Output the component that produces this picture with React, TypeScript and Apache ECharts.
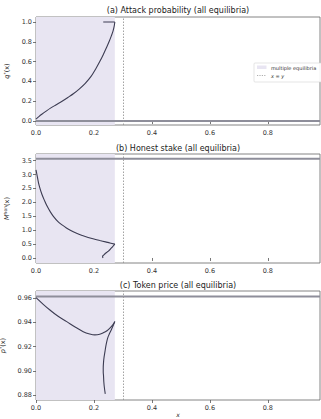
import React, { useEffect, useRef } from "react";
import * as echarts from "echarts";

// x extents
const X_MAX = 0.98;
const SHADE_END = 0.272;
const DIAG_X = 0.3;
const xTicks = [0, 0.2, 0.4, 0.6, 0.8];

// (a) attack probability
const aX = [0, 0.01, 0.02, 0.035, 0.05, 0.07, 0.09, 0.11, 0.13, 0.15, 0.17, 0.19, 0.205, 0.22, 0.232, 0.243, 0.252, 0.26, 0.266, 0.27, 0.272];
const aQ = [0.02, 0.045, 0.068, 0.1, 0.13, 0.165, 0.2, 0.238, 0.278, 0.325, 0.38, 0.45, 0.52, 0.6, 0.67, 0.74, 0.8, 0.86, 0.91, 0.96, 1.0];
const aTopX = [0.232, 0.272];
const aTopQ = [1.0, 1.0];
const aFlat = 0;
const aTicks = [0, 0.2, 0.4, 0.6, 0.8, 1.0];

// (b) honest stake
const bX = [0, 0.005, 0.011, 0.02, 0.03, 0.04, 0.05, 0.06, 0.075, 0.09, 0.105, 0.12, 0.14, 0.16, 0.18, 0.2, 0.22, 0.24, 0.255, 0.272];
const bM = [3.17, 2.9, 2.6, 2.3, 2.05, 1.83, 1.65, 1.5, 1.32, 1.19, 1.08, 0.99, 0.89, 0.81, 0.74, 0.68, 0.63, 0.58, 0.54, 0.5];
const bRX = [0.272, 0.267, 0.262, 0.256, 0.25, 0.245, 0.24, 0.236, 0.233, 0.23, 0.229, 0.23, 0.232];
const bRM = [0.5, 0.44, 0.38, 0.31, 0.25, 0.21, 0.17, 0.13, 0.1, 0.07, 0.05, 0.03, 0.01];
const bFlat = 3.57;
const bTicks = [0, 0.5, 1.0, 1.5, 2.0, 2.5, 3.0, 3.5];

// (c) token price
const cX = [0, 0.025, 0.048, 0.075, 0.106, 0.135, 0.163, 0.185, 0.203, 0.22, 0.232, 0.245, 0.255, 0.265, 0.272];
const cP = [0.9605, 0.955, 0.9503, 0.9453, 0.9407, 0.9362, 0.9324, 0.9305, 0.9297, 0.9302, 0.9314, 0.9332, 0.9353, 0.938, 0.9407];
const cRX = [0.272, 0.266, 0.26, 0.254, 0.249, 0.245, 0.241, 0.238, 0.235, 0.233, 0.232, 0.232, 0.233, 0.234, 0.236, 0.239];
const cRP = [0.9407, 0.9372, 0.934, 0.931, 0.9283, 0.925, 0.9205, 0.9159, 0.9115, 0.907, 0.902, 0.899, 0.896, 0.891, 0.886, 0.881];
const cFlat = 0.9615;
const cTicks = [0.88, 0.9, 0.92, 0.94, 0.96];

const titles = [
  "(a) Attack probability (all equilibria)",
  "(b) Honest stake (all equilibria)",
  "(c) Token price (all equilibria)",
];

const FONT = "DejaVu Sans";
const CURVE = "#3c3c52";
const FLAT = "#8e8e9a";
const SHADE = "#e8e5f2";
const FRAME = "#666";

const zip = (xs: number[], ys: number[]) => xs.map((x, i) => [x, ys[i]]);

export default function App() {
  const ref = useRef<HTMLDivElement>(null);
  useEffect(() => {
    if (!ref.current) return;
    const chart = echarts.init(ref.current, null, { renderer: "svg" });

    const gridDefs = [
      { top: 17, height: 108 },
      { top: 154, height: 109 },
      { top: 291, height: 109 },
    ];
    const yDefs = [
      { min: -0.04, max: 1.05, ticks: aTicks, dec: 1, name: "{i|q}{s|*}{n|(x)}" },
      { min: -0.18, max: 3.74, ticks: bTicks, dec: 1, name: "{i|M}{s|hon}{n|(x)}" },
      { min: 0.8759, max: 0.966, ticks: cTicks, dec: 2, name: "{i|p}{s|*}{n|(x)}" },
    ];
    const rich = {
      i: { fontFamily: FONT, fontSize: 6.5, fontStyle: "italic", color: "#222" },
      n: { fontFamily: FONT, fontSize: 6.5, color: "#222" },
      s: { fontFamily: FONT, fontSize: 4.5, color: "#222", verticalAlign: "top", padding: [0, 0, 4, 0] },
    };

    const grid = gridDefs.map((g) => ({
      left: 36,
      width: 284,
      top: g.top,
      height: g.height,
      show: true,
      borderColor: FRAME,
      borderWidth: 0.8,
      backgroundColor: "transparent",
      containLabel: false,
      outerBoundsMode: "none",
    }));

    const xAxis = gridDefs.map((_, i) => ({
      type: "value",
      gridIndex: i,
      min: 0,
      max: X_MAX,
      axisLine: { show: false },
      splitLine: { show: false },
      axisTick: { show: true, length: 3, inside: false, customValues: xTicks, lineStyle: { color: "#555", width: 0.8 } },
      axisLabel: {
        customValues: xTicks,
        formatter: (v: number) => v.toFixed(1),
        fontFamily: FONT,
        fontSize: 6.5,
        color: "#333",
        margin: 4,
      },
      name: i === 2 ? "x" : "",
      nameLocation: "middle",
      nameGap: 11,
      nameTextStyle: { fontFamily: FONT, fontSize: 6, fontStyle: "italic", color: "#222" },
    }));

    const yAxis = yDefs.map((y, i) => ({
      type: "value",
      gridIndex: i,
      min: y.min,
      max: y.max,
      axisLine: { show: false },
      splitLine: { show: false },
      axisTick: { show: true, length: 3, customValues: y.ticks, lineStyle: { color: "#555", width: 0.8 } },
      axisLabel: {
        customValues: y.ticks,
        formatter: (v: number) => v.toFixed(y.dec),
        fontFamily: FONT,
        fontSize: 6.5,
        color: "#333",
        margin: 4,
      },
      name: y.name,
      nameLocation: "middle",
      nameRotate: 90,
      nameGap: i === 2 ? 24 : 19,
      nameTextStyle: { rich },
    }));

    const flatSeries = (i: number, v: number) => ({
      type: "line",
      xAxisIndex: i,
      yAxisIndex: i,
      data: [[0, v], [X_MAX, v]],
      symbol: "none",
      z: 1,
      lineStyle: { color: FLAT, width: 2 },
      markArea: {
        silent: true,
        itemStyle: { color: SHADE },
        data: [[{ xAxis: 0 }, { xAxis: SHADE_END }]],
      },
      markLine: {
        silent: true,
        symbol: "none",
        label: { show: false },
        lineStyle: { color: "#999", type: [1.5, 1.5], width: 0.9 },
        data: [{ xAxis: DIAG_X }],
      },
    });

    const curve = (i: number, xs: number[], ys: number[]) => ({
      type: "line",
      xAxisIndex: i,
      yAxisIndex: i,
      data: zip(xs, ys),
      symbol: "none",
      smooth: 0.35,
      z: 3,
      lineStyle: { color: CURVE, width: 1.1 },
    });

    const series = [
      flatSeries(0, aFlat),
      curve(0, aX, aQ),
      { ...curve(0, aTopX, aTopQ), smooth: false },
      flatSeries(1, bFlat),
      curve(1, bX, bM),
      curve(1, bRX, bRM),
      flatSeries(2, cFlat),
      curve(2, cX, cP),
      curve(2, cRX, cRP),
    ];

    const titleY = [10, 148, 285];
    const graphic: any[] = titles.map((t, i) => ({
      type: "text",
      x: 178,
      y: titleY[i],
      style: {
        text: t,
        fontFamily: FONT,
        fontSize: 8,
        fill: "#222",
        align: "center",
        verticalAlign: "middle",
      },
    }));
    graphic.push(
      {
        type: "rect",
        shape: { x: 254, y: 63, width: 70, height: 19, r: 1 },
        style: { fill: "rgba(255,255,255,0.9)", stroke: "#d5d5d5", lineWidth: 0.6 },
        z: 10,
      },
      {
        type: "rect",
        shape: { x: 257, y: 65.5, width: 9.5, height: 3.5 },
        style: { fill: SHADE },
        z: 11,
      },
      {
        type: "text",
        x: 271,
        y: 67.5,
        style: { text: "multiple equilibria", fontFamily: FONT, fontSize: 5, fill: "#333", verticalAlign: "middle" },
        z: 11,
      },
      {
        type: "line",
        shape: { x1: 257, y1: 75.5, x2: 266.5, y2: 75.5 },
        style: { stroke: "#999", lineWidth: 0.8, lineDash: [1.2, 1.2] },
        z: 11,
      },
      {
        type: "text",
        x: 271,
        y: 75.5,
        style: { text: "x = y", fontFamily: FONT, fontSize: 5, fontStyle: "italic", fill: "#333", verticalAlign: "middle" },
        z: 11,
      }
    );

    chart.setOption({
      animation: false,
      backgroundColor: "#fff",
      textStyle: { fontFamily: FONT },
      grid,
      xAxis,
      yAxis,
      series,
      graphic,
    });
    return () => chart.dispose();
  }, []);

  return (
    <div
      ref={ref}
      style={{ position: "fixed", left: 0, top: 0, width: 321, height: 419 }}
    />
  );
}
